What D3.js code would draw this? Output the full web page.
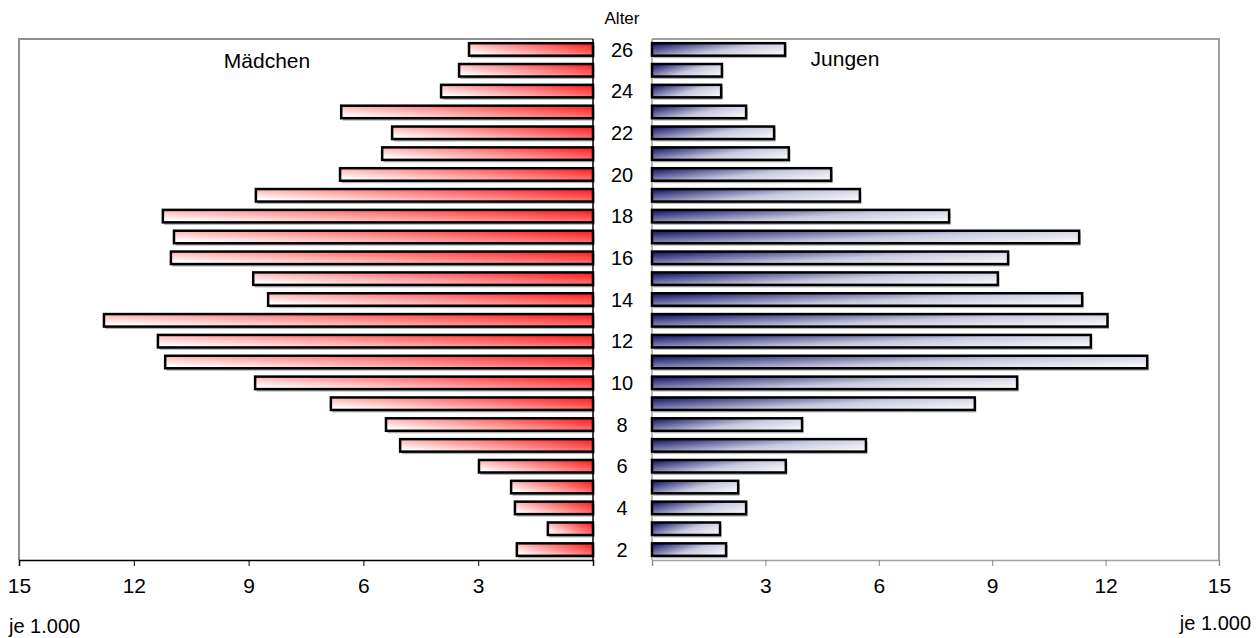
<!DOCTYPE html>
<html>
<head>
<meta charset="utf-8">
<script src="https://cdn.jsdelivr.net/npm/d3@7"></script>
<style>
  html, body { margin: 0; padding: 0; background: #fff; }
  svg { display: block; font-family: "Liberation Sans", Arial, sans-serif; }
</style>
</head>
<body>
<svg id="chart" width="1258" height="638"></svg>
<script>
// Age groups (years) from oldest at the top to youngest at the bottom
const ages = [26, 25, 24, 23, 22, 21, 20, 19, 18, 17, 16, 15, 14, 13, 12, 11, 10, 9, 8, 7, 6, 5, 4, 3, 2];
// Counts in thousands
const girls = [3.24, 3.50, 3.97, 6.58, 5.25, 5.51, 6.61, 8.81, 11.24, 10.95, 11.03, 8.88, 8.49, 12.78, 11.37, 11.18, 8.83, 6.85, 5.41, 5.04, 2.98, 2.14, 2.04, 1.18, 1.99];
const boys  = [3.52, 1.85, 1.83, 2.49, 3.23, 3.62, 4.74, 5.50, 7.86, 11.30, 9.42, 9.15, 11.38, 12.05, 11.61, 13.10, 9.66, 8.54, 3.97, 5.66, 3.54, 2.28, 2.49, 1.80, 1.96];
const xTicks = [3, 6, 9, 12, 15];
const ageLabels = [26, 24, 22, 20, 18, 16, 14, 12, 10, 8, 6, 4, 2];

const svg = d3.select("#chart");

const plotTop = 39, plotBottom = 560;
const leftX0 = 19, leftX1 = 593;    // girls panel (value 15 .. 0)
const rightX0 = 652, rightX1 = 1219; // boys panel (value 0 .. 15)

const y = d3.scaleBand().domain(ages).range([plotTop, plotBottom]).paddingInner(0.4).paddingOuter(0.2);
const xL = d3.scaleLinear().domain([15, 0]).range([leftX0, leftX1]);
const xR = d3.scaleLinear().domain([0, 15]).range([rightX0, rightX1]);

// Gradients for the bars
const defs = svg.append("defs");
const gRed = defs.append("linearGradient").attr("id", "gradRed")
  .attr("x1", 0).attr("y1", 0.8).attr("x2", 1).attr("y2", 0.2);
gRed.append("stop").attr("offset", "0%").attr("stop-color", "#ffffff");
gRed.append("stop").attr("offset", "100%").attr("stop-color", "#ff2a2a");
const gBlue = defs.append("linearGradient").attr("id", "gradBlue")
  .attr("x1", 0).attr("y1", 0.2).attr("x2", 1).attr("y2", 0.8);
gBlue.append("stop").attr("offset", "0%").attr("stop-color", "#262673");
gBlue.append("stop").attr("offset", "55%").attr("stop-color", "#c8c9de");
gBlue.append("stop").attr("offset", "100%").attr("stop-color", "#f4f6f8");

// Panel frames
svg.append("path")
  .attr("d", `M${leftX0},${plotBottom} V${plotTop} H${leftX1}`)
  .attr("fill", "none").attr("stroke", "#8f8f8f").attr("stroke-width", 2);
svg.append("path")
  .attr("d", `M${rightX0},${plotTop} H${rightX1} V${plotBottom}`)
  .attr("fill", "none").attr("stroke", "#a0a0a0").attr("stroke-width", 2);
svg.append("line")
  .attr("x1", rightX0).attr("x2", rightX0).attr("y1", plotTop).attr("y2", plotBottom)
  .attr("stroke", "#a0a0a0").attr("stroke-width", 1.5);

const bh = y.bandwidth();

// Shadows behind the bars
svg.append("g").selectAll("rect").data(ages).join("rect")
  .attr("x", (d, i) => xL(girls[i]) + 1.5)
  .attr("y", d => y(d) + 2.5)
  .attr("width", (d, i) => xL(0) - xL(girls[i]))
  .attr("height", bh)
  .attr("fill", "#b4b4b4");
svg.append("g").selectAll("rect").data(ages).join("rect")
  .attr("x", xR(0) + 1.5)
  .attr("y", d => y(d) + 2.5)
  .attr("width", (d, i) => xR(boys[i]) - xR(0))
  .attr("height", bh)
  .attr("fill", "#b4b4b4");

// Girls bars
svg.append("g").selectAll("rect").data(ages).join("rect")
  .attr("x", (d, i) => xL(girls[i]))
  .attr("y", d => y(d))
  .attr("width", (d, i) => xL(0) - xL(girls[i]))
  .attr("height", bh)
  .attr("fill", "url(#gradRed)")
  .attr("stroke", "#000").attr("stroke-width", 2.5);

// Boys bars
svg.append("g").selectAll("rect").data(ages).join("rect")
  .attr("x", xR(0))
  .attr("y", d => y(d))
  .attr("width", (d, i) => xR(boys[i]) - xR(0))
  .attr("height", bh)
  .attr("fill", "url(#gradBlue)")
  .attr("stroke", "#000").attr("stroke-width", 2.5);

// Zero line of the girls panel
svg.append("line")
  .attr("x1", leftX1).attr("x2", leftX1).attr("y1", plotTop).attr("y2", plotBottom)
  .attr("stroke", "#000").attr("stroke-width", 1.5);

// Bottom axes
const axL = d3.axisBottom(xL).tickValues([15, 12, 9, 6, 3, 0]).tickSize(6)
  .tickFormat(d => d === 0 ? "" : d);
const gL = svg.append("g").attr("transform", `translate(0,${plotBottom})`).call(axL);
gL.select(".domain").attr("stroke", "#000").attr("stroke-width", 1.5);
gL.selectAll(".tick line").attr("stroke", "#000");

const axR = d3.axisBottom(xR).tickValues([0].concat(xTicks)).tickSize(6)
  .tickFormat(d => d === 0 ? "" : d);
const gR = svg.append("g").attr("transform", `translate(0,${plotBottom})`).call(axR);
gR.select(".domain").attr("stroke", "#a0a0a0").attr("stroke-width", 1.5);
gR.selectAll(".tick line").attr("stroke", "#888");

[gL, gR].forEach(g => g.selectAll(".tick text")
  .attr("y", 33).attr("dy", null).attr("font-size", 21).attr("fill", "#000")
  .attr("font-family", "Liberation Sans, Arial, sans-serif"));

// Age labels down the centre
svg.append("g").selectAll("text").data(ageLabels).join("text")
  .attr("x", 622)
  .attr("y", d => y(d) + bh / 2)
  .attr("dy", "0.36em")
  .attr("text-anchor", "middle")
  .attr("font-size", 20)
  .text(d => d);

svg.append("text").attr("x", 622).attr("y", 24).attr("text-anchor", "middle")
  .attr("font-size", 17).text("Alter");
svg.append("text").attr("x", 267).attr("y", 68).attr("text-anchor", "middle")
  .attr("font-size", 21).text("Mädchen");
svg.append("text").attr("x", 845).attr("y", 66).attr("text-anchor", "middle")
  .attr("font-size", 21).text("Jungen");
svg.append("text").attr("x", 9).attr("y", 633).attr("font-size", 20).text("je 1.000");
svg.append("text").attr("x", 1251).attr("y", 630).attr("text-anchor", "end")
  .attr("font-size", 20).text("je 1.000");
</script>
</body>
</html>
